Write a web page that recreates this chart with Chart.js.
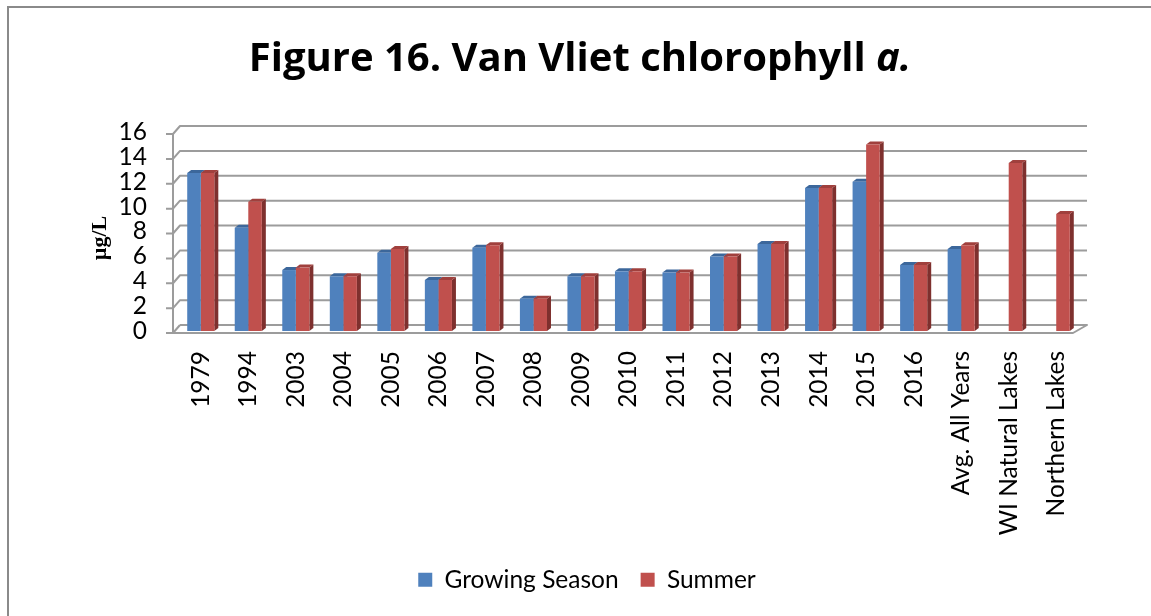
<!DOCTYPE html>
<html>
<head>
<meta charset="utf-8">
<script src="https://cdn.jsdelivr.net/npm/chart.js@4.4.0/dist/chart.umd.min.js"></script>
<style>
  html, body { margin: 0; padding: 0; background: #fff; overflow: hidden; }
  #wrap { position: relative; width: 1151px; height: 616px; }
  #frame { position: absolute; left: 7px; top: 6px; width: 1200px; height: 700px; border: 2px solid #8a8a8a; }
  canvas { position: absolute; left: 0; top: 0; }
</style>
</head>
<body>
<div id="wrap">
  <div id="frame"></div>
  <canvas id="chart" width="1151" height="616"></canvas>
</div>
<script>
// chart data
const categories = ["1979", "1994", "2003", "2004", "2005", "2006", "2007", "2008", "2009", "2010",
  "2011", "2012", "2013", "2014", "2015", "2016", "Avg. All Years", "WI Natural Lakes", "Northern Lakes"];
const growingSeason = [12.7, 8.3, 4.9, 4.4, 6.3, 4.1, 6.7, 2.6, 4.4, 4.8,
  4.7, 6.0, 7.0, 11.5, 12.0, 5.3, 6.6, null, null];
const summer = [12.7, 10.4, 5.1, 4.4, 6.6, 4.1, 6.9, 2.6, 4.4, 4.8,
  4.7, 6.0, 7.0, 11.5, 15.0, 5.3, 6.9, 13.5, 9.4];
const yTicks = [0, 2, 4, 6, 8, 10, 12, 14, 16];

const titleMain = "Figure 16. Van Vliet chlorophyll ";
const titleItalic = "a.";
const yTitle = "µg/L";

const DX = 4, DY = 3; // depth of the fake 3d bars

// draws walls, floor and the top/side faces of the bars (front faces come from Chart.js)
const fake3d = {
  id: "fake3d",
  beforeDatasetsDraw(chart) {
    const { ctx, chartArea: a, scales: { y } } = chart;
    const L = a.left, R = a.right;
    ctx.save();
    ctx.strokeStyle = "#9c9c9c";
    ctx.lineWidth = 2;
    ctx.lineJoin = "round";
    yTicks.forEach(v => {
      const py = y.getPixelForValue(v);
      ctx.beginPath();
      ctx.moveTo(L - 11, py + 2);
      ctx.lineTo(L - 4, py + 2);
      ctx.lineTo(L + 3, py - 6);
      if (v > 0) ctx.lineTo(R + 7, py - 6);
      ctx.stroke();
    });
    const p0 = y.getPixelForValue(0), p16 = y.getPixelForValue(16);
    ctx.beginPath();
    ctx.moveTo(L - 4, p16 + 2);
    ctx.lineTo(L - 4, p0 + 2);
    ctx.stroke();
    // floor
    ctx.beginPath();
    ctx.moveTo(L + 3, p0 - 6);
    ctx.lineTo(R + 7, p0 - 6);
    ctx.lineTo(R - 7, p0 + 2);
    ctx.lineTo(L - 4, p0 + 2);
    ctx.stroke();

    chart.data.datasets.forEach((ds, di) => {
      const meta = chart.getDatasetMeta(di);
      meta.data.forEach((bar, i) => {
        if (ds.data[i] == null) return;
        const { x, y: top, base, width } = bar.getProps(["x", "y", "base", "width"], true);
        const l = x - width / 2, r = x + width / 2;
        ctx.fillStyle = ds.sideColor;
        ctx.beginPath();
        ctx.moveTo(r, top);
        ctx.lineTo(r + DX, top - DY);
        ctx.lineTo(r + DX, base - DY);
        ctx.lineTo(r, base);
        ctx.closePath();
        ctx.fill();
        ctx.fillStyle = ds.topColor;
        ctx.beginPath();
        ctx.moveTo(l, top);
        ctx.lineTo(l + DX, top - DY);
        ctx.lineTo(r + DX, top - DY);
        ctx.lineTo(r, top);
        ctx.closePath();
        ctx.fill();
      });
    });
    ctx.restore();
  },
  // title with italic "a." and the rotated y title
  afterDraw(chart) {
    const ctx = chart.ctx;
    ctx.save();
    ctx.fillStyle = "#000";
    ctx.textBaseline = "alphabetic";
    const fMain = "bold 40px 'Open Sans'";
    const fItal = "italic bold 40px 'Open Sans'";
    ctx.font = fMain;
    const w1 = ctx.measureText(titleMain).width;
    ctx.font = fItal;
    const w2 = ctx.measureText(titleItalic).width;
    let x = 580 - (w1 + w2) / 2;
    ctx.font = fMain;
    ctx.fillText(titleMain, x, 71);
    ctx.font = fItal;
    ctx.fillText(titleItalic, x + w1, 71);

    ctx.translate(100, 238);
    ctx.rotate(-Math.PI / 2);
    ctx.font = "bold 22px 'Liberation Serif'";
    ctx.textAlign = "center";
    ctx.textBaseline = "middle";
    ctx.fillText(yTitle, 0, 0);
    ctx.restore();
  }
};

const ctx = document.getElementById("chart").getContext("2d");
new Chart(ctx, {
  type: "bar",
  data: {
    labels: categories,
    datasets: [
      {
        label: "Growing Season",
        data: growingSeason,
        backgroundColor: "#4f81bd",
        topColor: "#3c679b",
        sideColor: "#385d8a",
        categoryPercentage: 0.57,
        barPercentage: 1.0
      },
      {
        label: "Summer",
        data: summer,
        backgroundColor: "#c0504d",
        topColor: "#a0403d",
        sideColor: "#7e302e",
        categoryPercentage: 0.57,
        barPercentage: 1.0
      }
    ]
  },
  options: {
    responsive: false,
    animation: false,
    devicePixelRatio: 1,
    layout: { padding: { left: 94, right: 71, top: 132, bottom: 14 } },
    scales: {
      x: {
        grid: { display: false, drawTicks: false },
        border: { display: false },
        ticks: {
          color: "#000",
          font: { family: "Lato", size: 24.5 },
          minRotation: 90,
          maxRotation: 90,
          padding: 20,
          autoSkip: false
        },
        afterFit: s => { s.height = 214.5; }
      },
      y: {
        min: 0,
        max: 16,
        grid: { display: false, drawTicks: false },
        border: { display: false },
        ticks: {
          stepSize: 2,
          autoSkip: false,
          color: "#000",
          font: { family: "Lato", size: 24.5 },
          padding: 30
        },
        afterFit: s => { s.width = 83; }
      }
    },
    plugins: {
      title: { display: false },
      legend: {
        position: "bottom",
        labels: {
          color: "#000",
          font: { family: "Lato", size: 24.5 },
          boxWidth: 14,
          boxHeight: 14,
          padding: 22
        }
      },
      tooltip: { enabled: false }
    }
  },
  plugins: [fake3d]
});
</script>
</body>
</html>
